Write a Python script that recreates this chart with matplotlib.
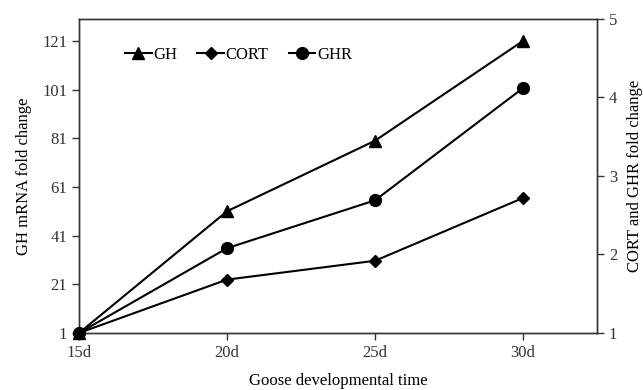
import matplotlib.pyplot as plt

# data
days = ["15d", "20d", "25d", "30d"]
gh = [1, 51, 80, 121]
cort = [1, 1.68, 1.92, 2.72]
ghr = [1, 2.08, 2.69, 4.12]

left_ticks = [1, 21, 41, 61, 81, 101, 121]
right_ticks = [1, 2, 3, 4, 5]

plt.rcParams['font.family'] = ['Liberation Serif', 'DejaVu Serif']
plt.rcParams['font.size'] = 12

fig = plt.figure(figsize=(6.43, 3.9), dpi=100)
ax = fig.add_axes([0.1229, 0.1462, 0.8056, 0.8051])
ax2 = ax.twinx()

x = list(range(len(days)))
l1, = ax.plot(x, gh, color='black', lw=1.5, marker='^', ms=8, label='GH', clip_on=False, zorder=3)
l2, = ax2.plot(x, cort, color='black', lw=1.5, marker='D', ms=6, label='CORT', clip_on=False, zorder=3)
l3, = ax2.plot(x, ghr, color='black', lw=1.5, marker='o', ms=8.5, label='GHR', clip_on=False, zorder=3)

ax.set_xlim(0, 3.5)
ax.set_ylim(1, 130)
ax2.set_ylim(1, 5)
ax.set_xticks(x)
ax.set_xticklabels(days)
ax.set_yticks(left_ticks)
ax2.set_yticks(right_ticks)

for a in (ax, ax2):
    a.tick_params(direction='out', length=5, width=1, colors='#333333')
    for s in a.spines.values():
        s.set_linewidth(1)
        s.set_color('#333333')
ax.tick_params(axis='x', pad=4)

ax.set_ylabel("GH mRNA fold change", labelpad=7)
ax2.set_ylabel("CORT and GHR fold change", labelpad=7)
ax.set_xlabel("Goose developmental time", labelpad=8)

ax.legend(handles=[l1, l2, l3], loc='upper left', bbox_to_anchor=(0.06, 0.96),
          ncol=3, frameon=False, handlelength=1.6, handletextpad=0.1,
          columnspacing=1.2, fontsize=12)

fig.savefig("out.png", dpi=100)
